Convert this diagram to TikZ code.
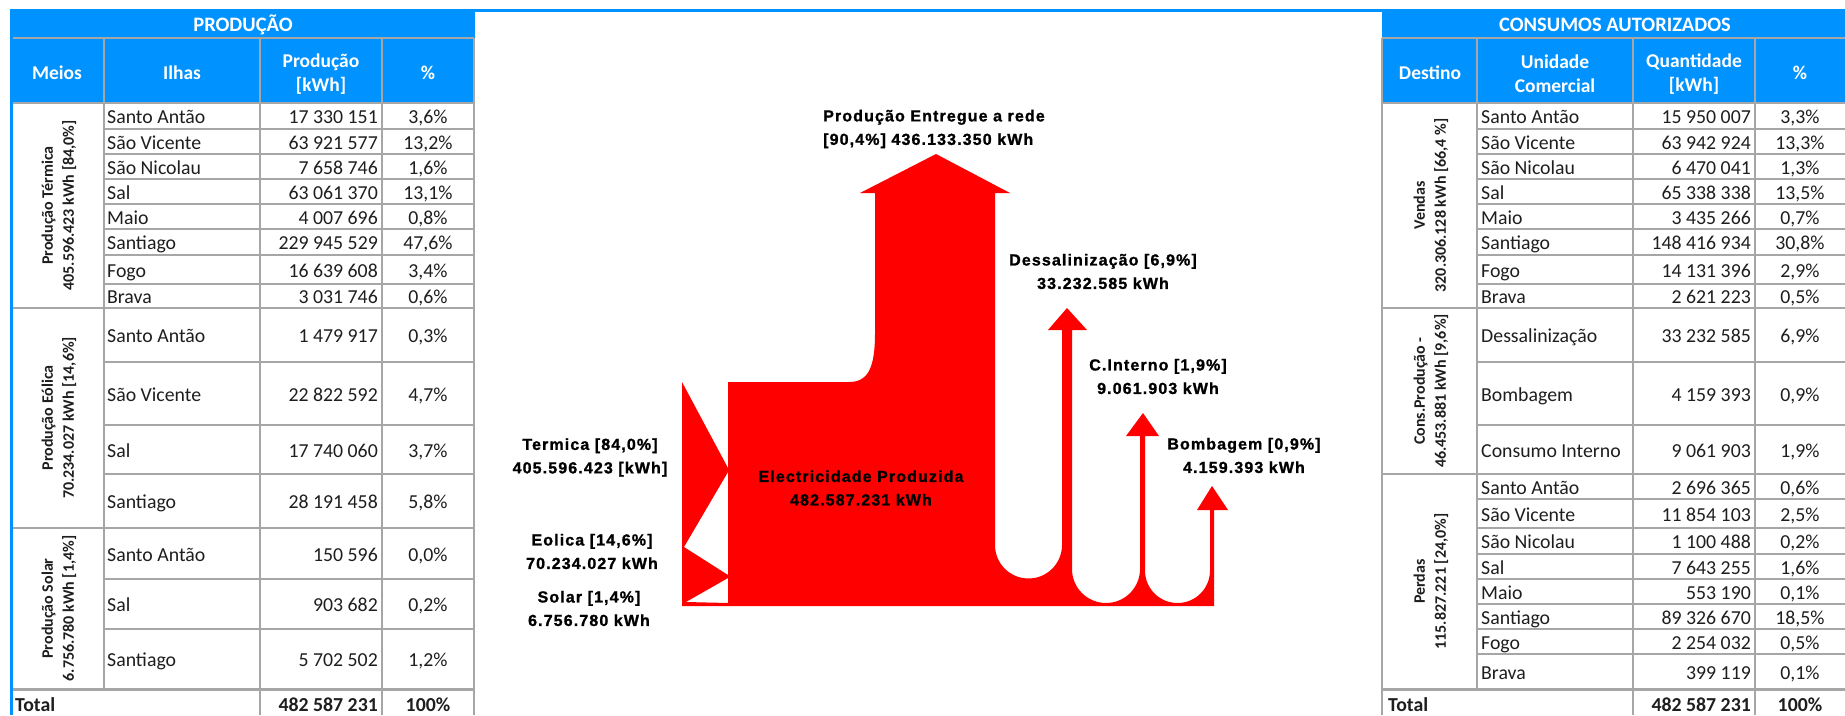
\documentclass[tikz,border=0pt]{standalone}
\usepackage{fontspec}
\setmainfont{Carlito}
\newfontfamily\diafont[LetterSpace=7,FakeBold=1.2]{Liberation Sans}
\definecolor{hblue}{RGB}{0,146,255}
\definecolor{gline}{RGB}{166,166,166}
\definecolor{fred}{RGB}{255,0,0}
\definecolor{txt}{RGB}{30,30,30}
\newcommand\lrow[6]{%
  \node[ilha] (#1a) at (107,{(#2+#3)/2+7.5}) {#4};
  \node[num] (#1b) at (378,{(#2+#3)/2+7.5}) {#5};
  \node[pct] (#1c) at (428,{(#2+#3)/2+7.5}) {#6};}
\newcommand\rrow[6]{%
  \node[ilha] (#1a) at (1481,{(#2+#3)/2+7.5}) {#4};
  \node[num] (#1b) at (1751,{(#2+#3)/2+7.5}) {#5};
  \node[pct] (#1c) at (1800,{(#2+#3)/2+7.5}) {#6};}
\begin{document}
\begin{tikzpicture}[x=1pt,y=-1pt,
  cell/.style={font=\fontsize{19.8}{23}\selectfont, text=txt, inner sep=0pt},
  ilha/.style={cell, anchor=base west},
  num/.style={cell, anchor=base east},
  pct/.style={cell, anchor=base},
  tot/.style={cell, font=\bfseries\fontsize{19.8}{23}\selectfont},
  hdr/.style={font=\bfseries\fontsize{19.5}{24}\selectfont, text=white, align=center, inner sep=0pt},
  ttl/.style={font=\bfseries\fontsize{20.5}{24}\selectfont, text=white, inner sep=0pt},
  grp/.style={font=\bfseries\fontsize{16}{21}\selectfont, text=txt, rotate=90, align=center, inner sep=0pt},
  lbl/.style={font=\diafont\bfseries\fontsize{16}{23.5}\selectfont, text=black, align=center, inner sep=0pt},
  gl/.style={draw=gline, line width=1.8pt},
  glt/.style={draw=gline, line width=3pt}]
\useasboundingbox (0,0) rectangle (1845,715);
\fill[white] (0,0) rectangle (1845,715);
% blue bands
\fill[hblue] (11,9) rectangle (475,103);
\fill[hblue] (1382,9) rectangle (1845,103);
\fill[hblue] (474,9) rectangle (1383,11.5);
\fill[hblue] (10,9) rectangle (12.8,715);
% left table grid
\foreach \yy in {129,154,179,204,229,255,284,362,425,474,579,629}
  \draw[gl] (104,\yy) -- (474,\yy);
\foreach \yy in {38,103,308,528}
  \draw[gl] (12.8,\yy) -- (474,\yy);
\draw[glt] (12.8,689) -- (474,689);
\draw[gl] (104,38) -- (104,689);
\foreach \xx in {260,382,474}
  \draw[gl] (\xx,38) -- (\xx,715);
% right table grid
\foreach \yy in {129,154,179,204,229,255,284,362,425,499,528,554,579,604,629,654}
  \draw[gl] (1477,\yy) -- (1845,\yy);
\foreach \yy in {38,103,308,474}
  \draw[gl] (1382,\yy) -- (1845,\yy);
\draw[glt] (1382,689) -- (1845,689);
\draw[gl] (1477,38) -- (1477,689);
\foreach \xx in {1382,1633,1755}
  \draw[gl] (\xx,38) -- (\xx,715);
% titles and headers
\node[ttl] (tP) at (243,25) {PRODUÇÃO};
\node[ttl] (tC) at (1615,25) {CONSUMOS AUTORIZADOS};
\node[hdr] (hL1) at (57,73) {Meios};
\node[hdr] (hL2) at (182,73) {Ilhas};
\node[hdr] (hL3) at (321,74) {Produção\\{[kWh]}};
\node[hdr] (hL4) at (428,73) {\%};
\node[hdr] (hR1) at (1430,73) {Destino};
\node[hdr] (hR2) at (1555,74) {Unidade\\Comercial};
\node[hdr] (hR3) at (1694,74) {Quantidade\\{[kWh]}};
\node[hdr] (hR4) at (1800,73) {\%};
% left rows
\lrow{L1}{103}{129}{Santo Antão}{17 330 151}{3,6\%}
\lrow{L2}{129}{154}{São Vicente}{63 921 577}{13,2\%}
\lrow{L3}{154}{179}{São Nicolau}{7 658 746}{1,6\%}
\lrow{L4}{179}{204}{Sal}{63 061 370}{13,1\%}
\lrow{L5}{204}{229}{Maio}{4 007 696}{0,8\%}
\lrow{L6}{229}{255}{Santiago}{229 945 529}{47,6\%}
\lrow{L7}{255}{284}{Fogo}{16 639 608}{3,4\%}
\lrow{L8}{284}{308}{Brava}{3 031 746}{0,6\%}
\lrow{L9}{308}{362}{Santo Antão}{1 479 917}{0,3\%}
\lrow{L10}{362}{425}{São Vicente}{22 822 592}{4,7\%}
\lrow{L11}{425}{474}{Sal}{17 740 060}{3,7\%}
\lrow{L12}{474}{528}{Santiago}{28 191 458}{5,8\%}
\lrow{L13}{528}{579}{Santo Antão}{150 596}{0,0\%}
\lrow{L14}{579}{629}{Sal}{903 682}{0,2\%}
\lrow{L15}{629}{689}{Santiago}{5 702 502}{1,2\%}
\node[grp] (gL1) at (59,205.5) {Produção Térmica\\405.596.423 kWh [84,0\%]};
\node[grp] (gL2) at (59,418) {Produção Eólica\\70.234.027 kWh [14,6\%]};
\node[grp] (gL3) at (59,608.5) {Produção Solar\\6.756.780 kWh [1,4\%]};
\node[tot, anchor=base west] (tLa) at (15,711) {Total};
\node[tot, anchor=base east] (tLb) at (378,711) {482 587 231};
\node[tot, anchor=base] (tLc) at (428,711) {100\%};
% right rows
\rrow{R1}{103}{129}{Santo Antão}{15 950 007}{3,3\%}
\rrow{R2}{129}{154}{São Vicente}{63 942 924}{13,3\%}
\rrow{R3}{154}{179}{São Nicolau}{6 470 041}{1,3\%}
\rrow{R4}{179}{204}{Sal}{65 338 338}{13,5\%}
\rrow{R5}{204}{229}{Maio}{3 435 266}{0,7\%}
\rrow{R6}{229}{255}{Santiago}{148 416 934}{30,8\%}
\rrow{R7}{255}{284}{Fogo}{14 131 396}{2,9\%}
\rrow{R8}{284}{308}{Brava}{2 621 223}{0,5\%}
\rrow{R9}{308}{362}{Dessalinização}{33 232 585}{6,9\%}
\rrow{R10}{362}{425}{Bombagem}{4 159 393}{0,9\%}
\rrow{R11}{425}{474}{Consumo Interno}{9 061 903}{1,9\%}
\rrow{R12}{474}{499}{Santo Antão}{2 696 365}{0,6\%}
\rrow{R13}{499}{528}{São Vicente}{11 854 103}{2,5\%}
\rrow{R14}{528}{554}{São Nicolau}{1 100 488}{0,2\%}
\rrow{R15}{554}{579}{Sal}{7 643 255}{1,6\%}
\rrow{R16}{579}{604}{Maio}{553 190}{0,1\%}
\rrow{R17}{604}{629}{Santiago}{89 326 670}{18,5\%}
\rrow{R18}{629}{654}{Fogo}{2 254 032}{0,5\%}
\rrow{R19}{654}{689}{Brava}{399 119}{0,1\%}
\node[grp] (gR1) at (1431,205.5) {Vendas\\320.306.128 kWh [66,4 \%]};
\node[grp] (gR2) at (1431,391) {Cons.Produção -\\46.453.881 kWh [9,6\%]};
\node[grp] (gR3) at (1431,581.5) {Perdas\\115.827.221 [24,0\%]};
\node[tot, anchor=base west] (tRa) at (1388,711) {Total};
\node[tot, anchor=base east] (tRb) at (1751,711) {482 587 231};
\node[tot, anchor=base] (tRc) at (1800,711) {100\%};
% sankey shape
\fill[fred, even odd rule]
  (682,382) -- (728,468) -- (728,382) -- (849,382)
  .. controls (868,382) and (875,368) .. (875,333)
  -- (875,193) -- (860,193) -- (936,154) -- (1010,193) -- (995,193)
  -- (995,545) .. controls (995,563.5) and (1010,578.5) .. (1028.5,578.5)
  .. controls (1047,578.5) and (1062,563.5) .. (1062,545)
  -- (1062,330) -- (1048,330) -- (1067,308) -- (1087,330) -- (1072,330)
  -- (1072,569) .. controls (1072,587.8) and (1087.2,603) .. (1106,603)
  .. controls (1124.8,603) and (1140,587.8) .. (1140,569)
  -- (1140,436) -- (1126,436) -- (1143,413) -- (1159,436) -- (1145,436)
  -- (1145,570.5) .. controls (1145,588.5) and (1159.5,603) .. (1177.5,603)
  .. controls (1195.5,603) and (1210,588.5) .. (1210,570.5)
  -- (1210,510) -- (1197,510) -- (1212,486) -- (1228,510) -- (1214,510)
  -- (1214,606) -- (682,606) -- cycle
  (728,472) -- (684,547) -- (728,575) -- cycle
  (728,578) -- (686,602) -- (728,603) -- cycle;
% labels
\node[lbl, align=left, anchor=west] (pe) at (823,129) {Produção Entregue a rede\\{[90,4\%]} 436.133.350 kWh};
\node[lbl] (ds) at (1103,271.5) {Dessalinização [6,9\%]\\33.232.585 kWh};
\node[lbl] (ci) at (1158,376.5) {C.Interno [1,9\%]\\9.061.903 kWh};
\node[lbl] (bo) at (1244,455.5) {Bombagem [0,9\%]\\4.159.393 kWh};
\node[lbl] (te) at (590,457.5) {Termica [84,0\%]\\405.596.423 [kWh]};
\node[lbl] (eo) at (592,551.5) {Eolica [14,6\%]\\70.234.027 kWh};
\node[lbl] (so) at (589,608.5) {Solar [1,4\%]\\6.756.780 kWh};
\node[lbl] (ep) at (861,488) {Electricidade Produzida\\482.587.231 kWh};
\end{tikzpicture}
\end{document}
